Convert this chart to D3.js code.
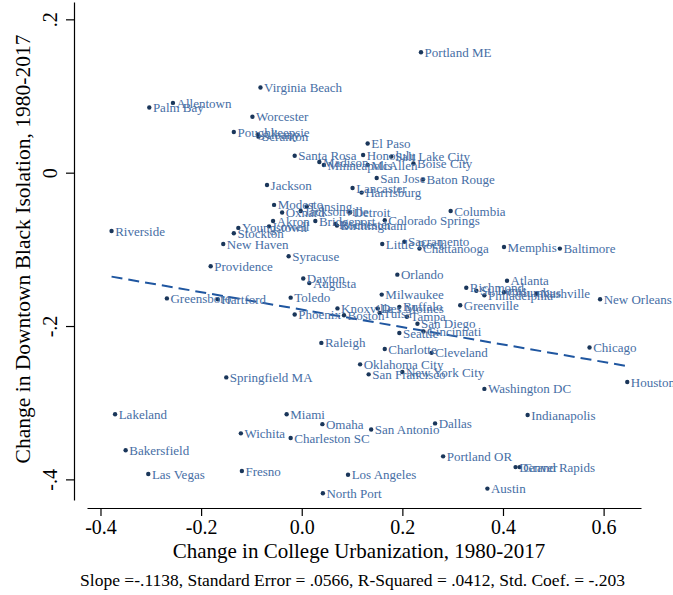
<!DOCTYPE html>
<html>
<head>
<meta charset="utf-8">
<script src="https://cdn.jsdelivr.net/npm/d3@7"></script>
<style>
  html, body { margin: 0; padding: 0; background: #fff; }
  svg { display: block; font-family: "Liberation Serif", "Times New Roman", serif; }
</style>
</head>
<body>
<div id="chart"></div>
<script>
const cities = [
  'Portland ME', 'Virginia Beach', 'Allentown', 'Palm Bay', 'Worcester', 'Poughkeepsie',
  'Albany', 'Scranton', 'El Paso', 'Santa Rosa', 'Honolulu', 'Salt Lake City',
  'Madison', 'Minneapolis', 'McAllen', 'Boise City', 'San Jose', 'Baton Rouge',
  'Jackson', 'Lancaster', 'Harrisburg', 'Modesto', 'Lansing', 'Oxnard',
  'Jacksonville', 'Detroit', 'Columbia', 'Akron', 'Bridgeport', 'Colorado Springs',
  'Birmingham', 'Rochester', 'Lowell', 'Youngstown', 'Riverside', 'Stockton',
  'Sacramento', 'New Haven', 'Little Rock', 'Chattanooga', 'Memphis', 'Baltimore',
  'Syracuse', 'Providence', 'Orlando', 'Dayton', 'Augusta', 'Atlanta',
  'Richmond', 'St. Louis', 'Columbus', 'Philadelphia', 'Nashville', 'Milwaukee',
  'Toledo', 'Greensboro', 'Hartford', 'New Orleans', 'Greenville', 'Buffalo',
  'Knoxville', 'Des Moines', 'Tulsa', 'Phoenix', 'Boston', 'Tampa',
  'San Diego', 'Seattle', 'Cincinnati', 'Raleigh', 'Chicago', 'Charlotte',
  'Cleveland', 'Oklahoma City', 'New York City', 'San Francisco', 'Springfield MA', 'Houston',
  'Washington DC', 'Lakeland', 'Miami', 'Indianapolis', 'Dallas', 'Omaha',
  'San Antonio', 'Wichita', 'Charleston SC', 'Bakersfield', 'Portland OR', 'Denver',
  'Grand Rapids', 'Fresno', 'Las Vegas', 'Los Angeles', 'Austin', 'North Port'
];

// Change in college urbanization, 1980-2017
const collegeChange = [
  0.237, -0.082, -0.256, -0.303, -0.098, -0.135,
  -0.087, -0.086, 0.131, -0.014, 0.122, 0.178,
  0.035, 0.044, 0.131, 0.222, 0.149, 0.241,
  -0.069, 0.101, 0.119, -0.055, 0.010, -0.039,
  -0.002, 0.096, 0.296, -0.057, 0.027, 0.165,
  0.070, 0.067, -0.065, -0.126, -0.378, -0.135,
  0.204, -0.156, 0.160, 0.234, 0.402, 0.513,
  -0.026, -0.181, 0.190, 0.003, 0.015, 0.408,
  0.327, 0.347, 0.402, 0.363, 0.467, 0.159,
  -0.022, -0.268, -0.167, 0.593, 0.315, 0.194,
  0.071, 0.151, 0.155, -0.014, 0.084, 0.209,
  0.230, 0.194, 0.242, 0.039, 0.572, 0.165,
  0.258, 0.116, 0.200, 0.133, -0.150, 0.647,
  0.363, -0.371, -0.030, 0.449, 0.265, 0.041,
  0.138, -0.121, -0.022, -0.350, 0.281, 0.425,
  0.433, -0.119, -0.305, 0.092, 0.369, 0.042
];

// Change in downtown Black isolation, 1980-2017
const isolationChange = [
  0.157, 0.111, 0.091, 0.085, 0.073, 0.053,
  0.050, 0.047, 0.038, 0.022, 0.023, 0.021,
  0.014, 0.010, 0.010, 0.012, -0.007, -0.009,
  -0.016, -0.020, -0.026, -0.042, -0.044, -0.052,
  -0.050, -0.052, -0.050, -0.063, -0.063, -0.062,
  -0.069, -0.067, -0.070, -0.072, -0.076, -0.079,
  -0.090, -0.093, -0.093, -0.099, -0.097, -0.099,
  -0.109, -0.122, -0.133, -0.138, -0.144, -0.141,
  -0.150, -0.154, -0.156, -0.160, -0.158, -0.159,
  -0.163, -0.164, -0.165, -0.165, -0.173, -0.175,
  -0.177, -0.177, -0.183, -0.185, -0.186, -0.188,
  -0.197, -0.209, -0.207, -0.222, -0.228, -0.230,
  -0.235, -0.250, -0.260, -0.263, -0.267, -0.273,
  -0.282, -0.315, -0.315, -0.316, -0.327, -0.328,
  -0.335, -0.340, -0.346, -0.362, -0.370, -0.384,
  -0.384, -0.389, -0.393, -0.394, -0.412, -0.418
];

// Fitted line: intercept, slope
const fitLine = [-0.1786, -0.1138];

const xTicks = [-0.4, -0.2, 0.0, 0.2, 0.4, 0.6];
const yTicks = [0.2, 0, -0.2, -0.4];
const yTickLabels = ['.2', '0', '-.2', '-.4'];

const xTitle = 'Change in College Urbanization, 1980-2017';
const yTitle = 'Change in Downtown Black Isolation, 1980-2017';
const note = 'Slope =-.1138, Standard Error = .0566, R-Squared = .0412, Std. Coef. = -.203';

const ScatterChart = {
  width: 673,
  height: 595,
  colors: {
    dot: '#1a365a',
    label: '#466ea5',
    fit: '#1f56a0',
    axis: '#000'
  },

  /**
   * Draw the labelled scatter with its fitted line
   * @param {string} containerId - The ID of the container element
   */
  draw: function(containerId) {
    const cfg = this;

    const svg = d3.select('#' + containerId)
      .append('svg')
      .attr('width', cfg.width)
      .attr('height', cfg.height);

    // Scales span the full axis lines, a little past the outer ticks
    const x = d3.scaleLinear().domain([-0.4268, 0.6743]).range([87, 641]);
    const y = d3.scaleLinear().domain([0.2226, -0.4269]).range([2, 500]);

    const points = cities.map((name, i) => ({
      name,
      x: collegeChange[i],
      y: isolationChange[i]
    }));

    // X axis
    const xAxis = svg.append('g')
      .attr('transform', 'translate(0,508)')
      .call(d3.axisBottom(x)
        .tickValues(xTicks)
        .tickSize(8)
        .tickSizeOuter(0)
        .tickFormat(d => d.toFixed(1)));

    xAxis.selectAll('text')
      .attr('y', 26)
      .attr('dy', 0)
      .style('font-size', '20px')
      .style('font-family', '"Liberation Serif", serif')
      .attr('fill', '#000');

    // Y axis, labels turned on their side
    const yAxis = svg.append('g')
      .attr('transform', 'translate(74,0)')
      .call(d3.axisLeft(y)
        .tickValues(yTicks)
        .tickSize(8)
        .tickSizeOuter(0)
        .tickFormat((d, i) => yTickLabels[i]));

    yAxis.selectAll('text')
      .attr('x', 0)
      .attr('y', -17)
      .attr('dy', 0)
      .attr('transform', 'rotate(-90)')
      .attr('text-anchor', 'middle')
      .style('font-size', '20px')
      .style('font-family', '"Liberation Serif", serif')
      .attr('fill', '#000');

    svg.selectAll('.domain, .tick line')
      .attr('stroke', cfg.colors.axis)
      .attr('stroke-width', 1.2);

    // Fitted line over the range of the data
    const xExt = d3.extent(points, d => d.x);
    const fit = xExt.map(v => [v, fitLine[0] + fitLine[1] * v]);

    svg.append('path')
      .datum(fit)
      .attr('fill', 'none')
      .attr('stroke', cfg.colors.fit)
      .attr('stroke-width', 2)
      .attr('stroke-dasharray', '11,6')
      .attr('d', d3.line().x(d => x(d[0])).y(d => y(d[1])));

    // Points
    svg.append('g')
      .selectAll('circle')
      .data(points)
      .enter().append('circle')
      .attr('cx', d => x(d.x))
      .attr('cy', d => y(d.y))
      .attr('r', 2.2)
      .attr('fill', cfg.colors.dot);

    // Marker labels sit to the right of each point
    svg.append('g')
      .selectAll('text')
      .data(points)
      .enter().append('text')
      .attr('x', d => x(d.x) + 3.6)
      .attr('y', d => y(d.y) + 4.6)
      .attr('fill', cfg.colors.label)
      .style('font-size', '13px')
      .text(d => d.name);

    // Titles
    svg.append('text')
      .attr('x', 359)
      .attr('y', 558)
      .attr('text-anchor', 'middle')
      .style('font-size', '21px')
      .text(xTitle);

    svg.append('text')
      .attr('transform', 'translate(29.5,249) rotate(-90)')
      .attr('text-anchor', 'middle')
      .style('font-size', '21.5px')
      .text(yTitle);

    svg.append('text')
      .attr('x', 352.5)
      .attr('y', 586)
      .attr('text-anchor', 'middle')
      .style('font-size', '17.5px')
      .text(note);
  }
};

ScatterChart.draw('chart');
</script>
</body>
</html>
